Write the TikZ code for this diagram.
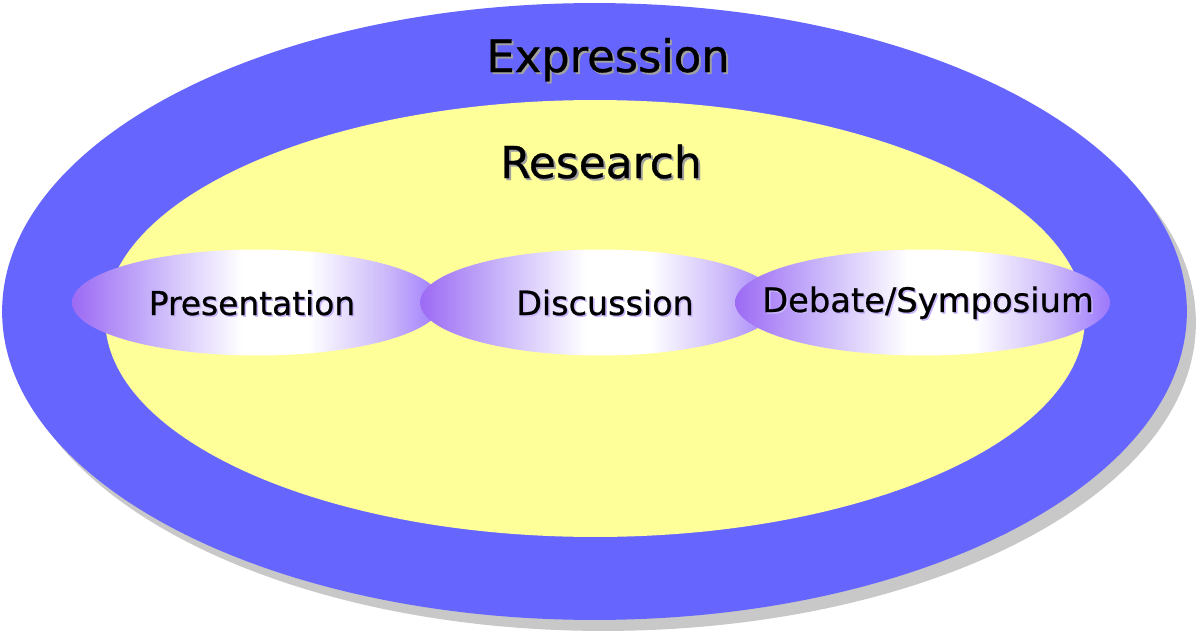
\documentclass[tikz,border=0pt]{standalone}
\usepackage{fontspec}
\setmainfont{DejaVu Sans}[FakeBold=0.7]
\usetikzlibrary{shapes.geometric}
\definecolor{outerblue}{HTML}{6666FF}
\definecolor{inneryellow}{HTML}{FFFF99}
\definecolor{shadowgray}{HTML}{C8C8C8}
\definecolor{txtshadow}{HTML}{A0A0A0}
\definecolor{pillL}{HTML}{9C6AF4}
\definecolor{pillM}{HTML}{C8B4FA}
\definecolor{pillR}{HTML}{9C78FC}
\pgfdeclarehorizontalshading{pill}{100bp}{color(0bp)=(pillL); color(25bp)=(pillL); color(36bp)=(pillM); color(48bp)=(white); color(57bp)=(white); color(68bp)=(pillM); color(75bp)=(pillR); color(100bp)=(pillR)}
\tikzset{
  blob/.style={ellipse, inner sep=0pt, outer sep=0pt, draw=none},
  pillshape/.style={blob, shading=pill, minimum height=2.12cm},
  lbl/.style={anchor=base, inner sep=0pt, text=black},
  lblshadow/.style={anchor=base, inner sep=0pt, text=txtshadow},
}
\newcommand{\bigfont}{\fontsize{25.5pt}{30pt}\selectfont}
\newcommand{\midfont}{\fontsize{18.7pt}{22pt}\selectfont}
\begin{document}
\begin{tikzpicture}[x=0.02cm, y=-0.02cm]
\useasboundingbox (0,0) rectangle (1200,635);
% outer ellipse with shadow
\node[blob, fill=shadowgray, minimum width=23.7cm, minimum height=12.34cm] (outershadow) at (603.5,322.5) {};
\node[blob, fill=outerblue, minimum width=23.7cm, minimum height=12.34cm] (outer) at (594.5,311.5) {};
% inner ellipse
\node[blob, fill=inneryellow, minimum width=19.6cm, minimum height=8.74cm] (inner) at (595,318.5) {};
% pills
\node[pillshape, minimum width=7.4cm] (pres) at (257,302.5) {};
\node[pillshape, minimum width=7.2cm] (disc) at (600,302.5) {};
\node[pillshape, minimum width=7.5cm] (deb) at (922.5,302.5) {};
% labels
\node[lblshadow] (exprs) at (610,74) {\bigfont Expression};
\node[lbl] (expr) at (608,72) {\bigfont Expression};
\node[lblshadow] (ress) at (603,180) {\fontsize{25pt}{30pt}\selectfont Research};
\node[lbl] (res) at (601,178) {\fontsize{25pt}{30pt}\selectfont Research};
\node[lblshadow, text=pillM] (press) at (253.5,316.5) {\midfont Presentation};
\node[lbl] (prest) at (252,315) {\midfont Presentation};
\node[lblshadow, text=pillM] (discs) at (606.5,316.5) {\fontsize{19pt}{22pt}\selectfont Discussion};
\node[lbl] (disct) at (605,315) {\fontsize{19pt}{22pt}\selectfont Discussion};
\node[lblshadow, text=pillM] (debs) at (929.5,313.5) {\fontsize{19.2pt}{22pt}\selectfont Debate/Symposium};
\node[lbl] (debt) at (928,312) {\fontsize{19.2pt}{22pt}\selectfont Debate/Symposium};
\end{tikzpicture}
\end{document}
